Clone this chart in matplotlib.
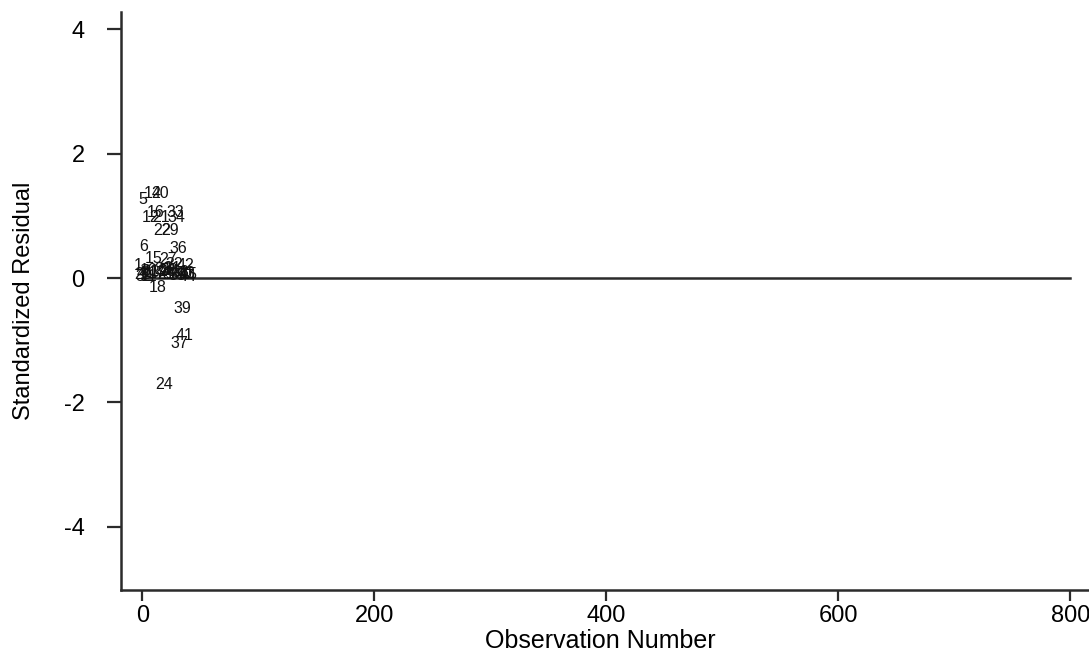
import numpy as np
import matplotlib
matplotlib.use("Agg")
import matplotlib.pyplot as plt

plt.rcParams['font.family'] = ['Liberation Sans', 'DejaVu Sans']
plt.rcParams['axes.unicode_minus'] = False

# observation number -> standardized residual
obs = list(range(1, 46))
resid = [0.20, 0.05, 0.02, 0.08, 1.27, 0.50, 0.04, 0.10, 0.06, 0.12,
         0.03, 0.98, 0.09, 1.36, 0.31, 1.06, 0.07, -0.15, 0.11, 1.36,
         0.98, 0.76, 0.14, -1.71, 0.05, 0.10, 0.30, 0.12, 0.76, 0.06,
         0.15, 0.22, 1.06, 0.98, 0.04, 0.47, -1.06, 0.09, -0.49, 0.05,
         -0.93, 0.20, 0.08, 0.03, 0.06]

xticks = [0, 200, 400, 600, 800]
yticks = [-4, -2, 0, 2, 4]
line_color = '#2b2b2b'

fig = plt.figure(figsize=(10.89, 6.53), dpi=100)
ax = fig.add_axes([0.1108, 0.0965, 0.8892, 0.885])

# reference line at zero
ax.plot([0, 800], [0, 0], color=line_color, lw=1.8)

# point labels only, no markers
for i, r in zip(obs, resid):
    ax.annotate(str(i), (i, r), xytext=(-4, 0), textcoords='offset points',
                ha='center', va='center', fontsize=11.5, color='#111111')

ax.set_xlim(-18.6, 816)
ax.set_ylim(-5.02, 4.28)
ax.set_xticks(xticks)
ax.set_yticks(yticks)

for s in ['top', 'right']:
    ax.spines[s].set_visible(False)
for s in ['left', 'bottom']:
    ax.spines[s].set_color(line_color)
    ax.spines[s].set_linewidth(1.8)

ax.tick_params(axis='x', direction='out', length=8, width=1.6, pad=3,
               labelsize=17, color=line_color)
ax.tick_params(axis='y', direction='out', length=10, width=1.6, pad=16,
               labelsize=17, color=line_color)

ax.set_xlabel('Observation Number', fontsize=18)
ax.set_ylabel('Standardized Residual', fontsize=17)
ax.xaxis.set_label_coords(0.495, -0.068)
ax.yaxis.set_label_coords(-0.088, 0.5)

fig.savefig('out.png', dpi=100)
